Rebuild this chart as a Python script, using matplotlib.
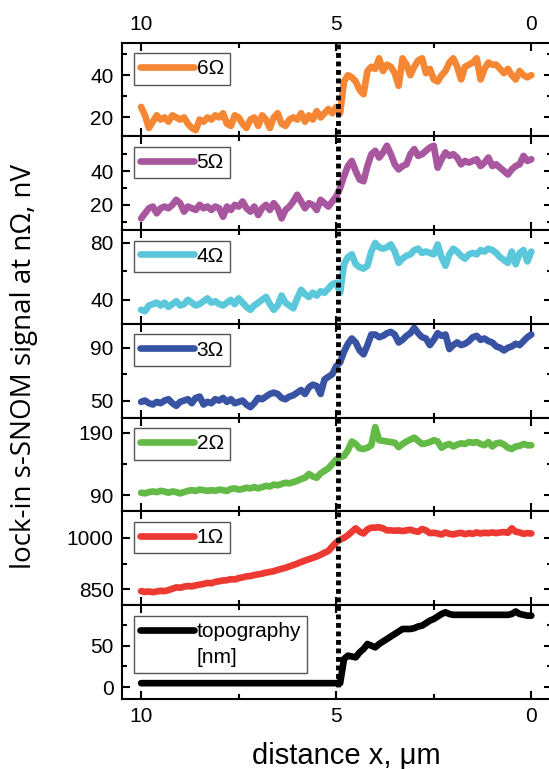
import numpy as np
import matplotlib
matplotlib.use("Agg")
import matplotlib.pyplot as plt
from matplotlib.lines import Line2D
from matplotlib.ticker import FixedLocator, MultipleLocator, AutoMinorLocator
from matplotlib.transforms import blended_transform_factory

plt.rcParams['font.family'] = ['Liberation Sans', 'DejaVu Sans']

# distance axis, 10 um -> 0 um, 0.1 um steps
x = np.linspace(10, 0, 101)

sig_6 = [25, 21, 15, 18, 21, 19, 20, 18, 21, 20, 19,
         20, 17, 15, 14, 19, 18, 20, 19, 21, 20,
         22, 17, 16, 21, 20, 17, 15, 19, 20, 16,
         21, 19, 15, 20, 22, 17, 16, 19, 20, 19,
         22, 18, 21, 19, 23, 20, 22, 24, 22, 25,
         22, 37, 40, 39, 37, 33, 31, 42, 44, 43,
         48, 42, 45, 44, 41, 35, 48, 45, 40, 44,
         47, 48, 41, 43, 38, 37, 40, 42, 46, 48,
         44, 38, 44, 45, 46, 48, 38, 43, 46, 45,
         45, 43, 41, 43, 40, 38, 42, 40, 39, 40]

sig_5 = [12, 15, 18, 19, 15, 18, 19, 18, 20, 23, 21,
         16, 19, 18, 17, 20, 18, 19, 17, 19, 18,
         13, 19, 17, 20, 19, 22, 18, 16, 19, 14,
         18, 20, 17, 21, 18, 12, 17, 19, 22, 26,
         22, 18, 21, 20, 17, 23, 21, 19, 22, 25,
         30, 37, 43, 46, 40, 35, 34, 43, 50, 52,
         48, 51, 55, 50, 44, 41, 43, 44, 50, 53,
         49, 50, 52, 54, 55, 42, 47, 51, 49, 50,
         48, 44, 46, 45, 46, 47, 43, 45, 48, 43,
         44, 42, 40, 38, 41, 43, 44, 49, 46, 47]

sig_4 = [33, 32, 36, 37, 38, 36, 38, 35, 37, 39, 36,
         37, 40, 38, 36, 37, 39, 41, 38, 39, 37,
         36, 38, 40, 37, 41, 38, 35, 33, 36, 38,
         40, 42, 37, 33, 36, 43, 38, 36, 34, 41,
         47, 44, 42, 45, 43, 46, 45, 48, 51, 52,
         45, 65, 70, 72, 65, 63, 62, 64, 74, 80,
         77, 76, 77, 79, 74, 66, 69, 71, 72, 75,
         76, 73, 74, 73, 72, 79, 70, 64, 72, 76,
         74, 71, 69, 72, 73, 72, 75, 74, 76, 75,
         73, 70, 68, 66, 74, 65, 73, 75, 67, 74]

sig_3 = [49, 50, 48, 47, 49, 48, 50, 51, 48, 46, 49,
         50, 51, 48, 52, 53, 47, 49, 48, 51, 50,
         52, 49, 51, 48, 49, 50, 47, 45, 48, 52,
         51, 53, 55, 56, 55, 52, 51, 53, 54, 56,
         58, 55, 60, 62, 61, 55, 66, 68, 70, 76,
         79, 87, 93, 97, 94, 88, 85, 92, 100, 100,
         98, 99, 101, 102, 100, 94, 96, 99, 101, 105,
         101, 98, 97, 92, 96, 101, 99, 100, 89, 92,
         94, 92, 93, 95, 98, 99, 96, 97, 95, 94,
         91, 90, 88, 90, 91, 93, 92, 95, 98, 100]

sig_2 = [94, 93, 95, 96, 95, 97, 96, 94, 96, 95, 93,
         95, 97, 98, 97, 99, 98, 97, 98, 97, 99,
         98, 97, 100, 101, 99, 100, 102, 101, 103, 101,
         103, 105, 104, 107, 106, 108, 110, 109, 111, 113,
         116, 118, 124, 120, 118, 125, 129, 133, 140, 147,
         151, 153, 162, 176, 172, 165, 164, 166, 170, 199,
         178, 177, 176, 175, 174, 167, 172, 176, 179, 182,
         177, 172, 173, 175, 178, 176, 166, 170, 172, 168,
         171, 173, 172, 175, 174, 175, 172, 170, 175, 168,
         173, 174, 171, 166, 164, 168, 169, 172, 170, 170]

sig_1 = [845, 843, 844, 842, 844, 846, 845, 848, 852, 856, 855,
         858, 860, 859, 862, 864, 866, 869, 868, 872, 874,
         876, 877, 880, 879, 883, 885, 888, 889, 892, 894,
         896, 899, 901, 903, 907, 910, 913, 917, 921, 925,
         930, 934, 938, 942, 946, 951, 957, 962, 975, 987,
         995, 1000, 1008, 1018, 1028, 1018, 1013, 1025, 1030, 1030,
         1031, 1028, 1022, 1022, 1021, 1022, 1020, 1022, 1024, 1020,
         1018, 1026, 1022, 1014, 1015, 1013, 1010, 1016, 1012, 1010,
         1013, 1015, 1011, 1014, 1012, 1016, 1013, 1015, 1014, 1016,
         1014, 1016, 1017, 1015, 1028, 1018, 1016, 1012, 1014, 1013]

topo = [5, 5, 5, 5, 5, 5, 5, 5, 5, 5, 5,
        5, 5, 5, 5, 5, 5, 5, 5, 5, 5,
        5, 5, 5, 5, 5, 5, 5, 5, 5, 5,
        5, 5, 5, 5, 5, 5, 5, 5, 5, 5,
        5, 5, 5, 5, 5, 5, 5, 5, 5, 5,
        5, 34, 38, 37, 36, 42, 46, 52, 50, 48,
        52, 55, 58, 61, 64, 67, 70, 70, 70, 71,
        73, 74, 77, 80, 82, 85, 88, 90, 88, 87,
        87, 87, 87, 87, 87, 87, 87, 87, 87, 87,
        87, 87, 87, 87, 88, 91, 88, 87, 86, 86]

series = [sig_6, sig_5, sig_4, sig_3, sig_2, sig_1, topo]
labels = ['6Ω', '5Ω', '4Ω', '3Ω', '2Ω', '1Ω', 'topography']
colors = ['#F58634', '#A8569E', '#5BC7DB', '#3953A4', '#63BA47', '#EC3A32', 'black']
ylims = [(11, 55.4), (5, 60.5), (23, 89), (37, 108), (64, 214), (804, 1077), (-14, 98.5)]
yticks = [[20, 40], [20, 40], [40, 80], [50, 90], [90, 190], [850, 1000], [0, 50]]
yminor = [[10, 30, 50], [10, 30, 50], [60], [70], [140], [925], [25, 75]]
boundary_x = 4.95

fig, axes = plt.subplots(7, 1, sharex=True, figsize=(5.49, 7.69), dpi=100,
                         gridspec_kw=dict(hspace=0))
fig.subplots_adjust(left=122/549, right=552/549, top=1-42.7/769, bottom=1-699/769)

for i, ax in enumerate(axes):
    ln, = ax.plot(x, series[i], color=colors[i], lw=4.8,
                  solid_capstyle='round', solid_joinstyle='round')
    ax.set_ylim(*ylims[i])
    ax.yaxis.set_major_locator(FixedLocator(yticks[i]))
    ax.yaxis.set_minor_locator(FixedLocator(yminor[i]))
    ax.xaxis.set_major_locator(MultipleLocator(5))
    ax.xaxis.set_minor_locator(AutoMinorLocator(2))
    ax.tick_params(which='both', direction='in', top=True, right=True,
                   width=1.5, labelsize=15, pad=6)
    ax.tick_params(which='major', length=5.5)
    ax.tick_params(which='minor', length=3.5)
    for s in ax.spines.values():
        s.set_linewidth(1.5)

    if labels[i] == 'topography':
        handles = [ln, Line2D([], [], color='none')]
        lab = ['topography', '[nm]']
        spacing = 0.35
    else:
        handles = [ln]
        lab = [labels[i]]
        spacing = 0.1
    leg = ax.legend(handles, lab, loc='upper left', bbox_to_anchor=(0.028, 0.89),
                    borderaxespad=0, fancybox=False, edgecolor='#555555',
                    framealpha=1, handlelength=2.6, handletextpad=0.1,
                    borderpad=0.3, labelspacing=spacing, fontsize=15)
    leg.get_frame().set_linewidth(1.0)

axes[0].set_xlim(10.49, -0.53)
axes[0].tick_params(labeltop=True)

# dotted marker for the interface position
tr = blended_transform_factory(axes[0].transData, fig.transFigure)
fig.add_artist(Line2D([boundary_x, boundary_x], [1-44/769, 1-690/769], transform=tr,
                      color='black', lw=3.5, linestyle=(0, (1, 0.75))))

fig.text(0.044, 0.523, 'lock-in s-SNOM signal at nΩ, nV', rotation=90,
         ha='center', va='center', fontsize=20, family=['Open Sans', 'DejaVu Sans'])
fig.text(0.63, 0.006, 'distance x, μm', ha='center', va='baseline', fontsize=21)

fig.savefig('out.png', dpi=100)
